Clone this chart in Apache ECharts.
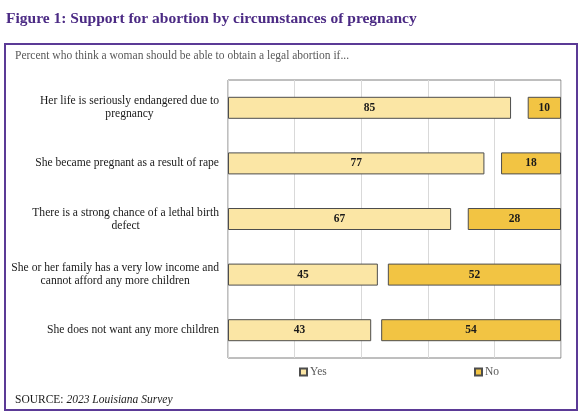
<!DOCTYPE html>
<html>
<head>
<meta charset="utf-8">
<script src="https://cdn.jsdelivr.net/npm/echarts@6/dist/echarts.min.js"></script>
<style>
html,body{margin:0;padding:0;background:#fff;}
#chart{width:582px;height:420px;}
</style>
</head>
<body>
<div id="chart"></div>
<script>
const categories = [
  'Her life is seriously endangered due to\npregnancy',
  'She became pregnant as a result of rape',
  'There is a strong chance of a lethal birth\ndefect',
  'She or her family has a very low income and\ncannot afford any more children',
  'She does not want any more children'
];
const yesValues = [85, 77, 67, 45, 43];
const gapValues = [5, 5, 5, 3, 3];
const noValues = [10, 18, 28, 52, 54];
const seriesNames = ['Yes', 'No'];
const titleText = 'Figure 1: Support for abortion by circumstances of pregnancy';
const subtitleText = 'Percent who think a woman should be able to obtain a legal abortion if...';
const sourceLabel = 'SOURCE: ';
const sourceName = '2023 Louisiana Survey';

const FONT = 'Liberation Serif';
const chart = echarts.init(document.getElementById('chart'));

const barLabel = {
  show: true,
  position: 'inside',
  color: '#1a1a1a',
  fontWeight: 'bold',
  fontSize: 11.5,
  fontFamily: FONT
};

const option = {
  animation: false,
  backgroundColor: '#ffffff',
  textStyle: { fontFamily: FONT },
  title: [
    {
      text: titleText,
      left: 6, top: 11, padding: 0,
      textStyle: { fontSize: 15.5, fontWeight: 'bold', color: '#4B2A84', fontFamily: FONT }
    },
    {
      text: subtitleText,
      left: 15, top: 50, padding: 0,
      textStyle: { fontSize: 11.5, fontWeight: 'normal', color: '#595959', fontFamily: FONT }
    },
    {
      text: '{a|' + sourceLabel + '}{b|' + sourceName + '}',
      left: 15, top: 394, padding: 0,
      textStyle: {
        fontWeight: 'normal',
        rich: {
          a: { fontSize: 11.5, color: '#1a1a1a', fontWeight: 'normal', fontFamily: FONT },
          b: { fontSize: 11.5, color: '#1a1a1a', fontWeight: 'normal', fontStyle: 'italic', fontFamily: FONT }
        }
      }
    }
  ],
  graphic: [
    {
      type: 'rect',
      z: -1,
      shape: { x: 5, y: 44, width: 572, height: 366 },
      style: { fill: 'none', stroke: '#5B3A96', lineWidth: 2 }
    }
  ],
  legend: [
    {
      data: [seriesNames[0]],
      left: 299, top: 366, padding: 0,
      itemWidth: 7, itemHeight: 7,
      icon: 'rect',
      textStyle: { color: '#595959', fontSize: 11.5, fontFamily: FONT, padding: [0, 0, 0, -2] }
    },
    {
      data: [seriesNames[1]],
      left: 474, top: 366, padding: 0,
      itemWidth: 7, itemHeight: 7,
      icon: 'rect',
      textStyle: { color: '#595959', fontSize: 11.5, fontFamily: FONT, padding: [0, 0, 0, -2] }
    }
  ],
  grid: {
    left: 228, right: 21, top: 80, bottom: 62,
    outerBoundsMode: 'none',
    containLabel: false,
    show: true, borderColor: '#7f7f7f', borderWidth: 1
  },
  xAxis: {
    type: 'value',
    min: 0, max: 100, interval: 20,
    axisLabel: { show: false },
    axisLine: { show: false },
    axisTick: { show: false },
    splitLine: { show: true, lineStyle: { color: '#d9d9d9', width: 1 } }
  },
  yAxis: {
    type: 'category',
    inverse: true,
    data: categories,
    axisLine: { show: false },
    axisTick: { show: false },
    axisLabel: {
      margin: 9,
      align: 'right',
      formatter: function (v) {
        return v.split('\n').map(function (l) { return '{c|' + l + '}'; }).join('\n');
      },
      rich: {
        c: { align: 'center', fontSize: 11.6, color: '#1a1a1a', fontFamily: FONT, lineHeight: 13 }
      }
    }
  },
  series: [
    {
      name: seriesNames[0],
      type: 'bar',
      stack: 'total',
      barWidth: 22,
      data: yesValues,
      itemStyle: { color: '#FBE6A5', borderColor: '#4d4d4d', borderWidth: 1 },
      label: barLabel
    },
    {
      name: 'gap',
      type: 'bar',
      stack: 'total',
      barWidth: 22,
      data: gapValues,
      silent: true,
      itemStyle: { color: 'rgba(0,0,0,0)', borderWidth: 0 },
      label: { show: false }
    },
    {
      name: seriesNames[1],
      type: 'bar',
      stack: 'total',
      barWidth: 22,
      data: noValues,
      itemStyle: { color: '#F2C443', borderColor: '#4d4d4d', borderWidth: 1 },
      label: barLabel
    }
  ]
};
chart.setOption(option);
</script>
</body>
</html>
